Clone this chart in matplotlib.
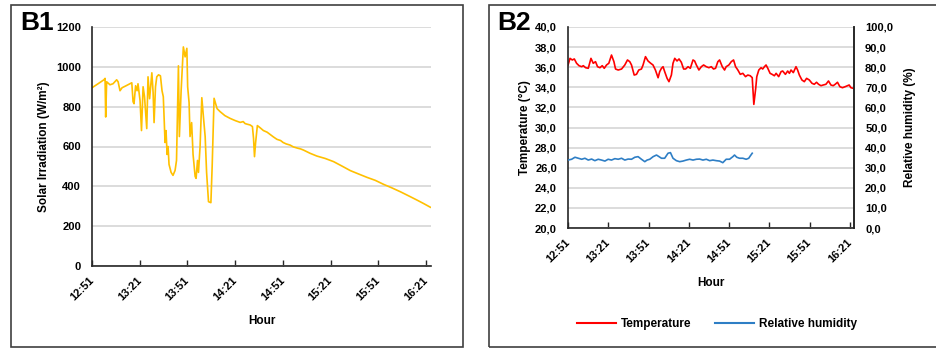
import matplotlib
matplotlib.use("Agg")
import matplotlib.pyplot as plt
from matplotlib.patches import Rectangle
from matplotlib.lines import Line2D

plt.rcParams['font.family'] = ['Liberation Sans', 'DejaVu Sans']
plt.rcParams['font.weight'] = 'bold'

# ---------------- data ----------------
# x tick labels (every 30 min starting 12:51)
hour_labels = ["12:51", "13:21", "13:51", "14:21", "14:51", "15:21", "15:51", "16:21"]
hour_ticks = [0, 30, 60, 90, 120, 150, 180, 210]   # minutes after 12:51

# B1: solar irradiation (minutes after 12:51, W/m2)
irr_t = [0, 3.8, 7.5, 8.2, 8.6, 9.2, 11.3, 13.2, 15.5, 16.4, 17.6, 18.9, 21.4, 25.0,
         25.8, 26.4, 27.4, 28.3, 28.9, 30.2, 31.1, 32.1, 33.0, 34.4, 35.2, 36.2, 37.6,
         38.4, 39.0, 39.9, 40.7, 41.8, 43.0, 44.0, 44.8, 45.9, 46.5, 47.2, 47.8, 48.4,
         49.7, 50.9, 52.2, 53.1, 54.3, 54.9, 56.0, 57.4, 58.5, 59.6, 60.1, 61.0, 61.6,
         62.6, 63.5, 64.8, 65.4, 66.3, 66.9, 67.9, 69.0, 70.0, 71.1, 72.0, 73.2, 74.7,
         75.5, 76.7, 78.6, 80.5, 83.5, 86.8, 90.0, 93.1, 95.0, 96.2, 97.5, 99.4, 100.8,
         101.5, 102.1, 102.8, 103.9, 105.5, 107.7, 110.0, 112.0, 114.0, 116.2, 118.5,
         120.1, 122.0, 124.5, 126.5, 129.0, 131.0, 132.9, 137.0, 141.3, 146.5, 151.8,
         157.0, 162.3, 167.5, 172.8, 178.0, 183.2, 188.5, 193.7, 199.0, 204.2, 208.5,
         212.6]
irr_v = [895, 915, 935, 942, 748, 925, 910, 915, 935, 925, 880, 895, 905, 920,
         825, 815, 905, 880, 915, 830, 680, 900, 850, 690, 950, 840, 970,
         870, 720, 900, 950, 960, 955, 880, 850, 620, 680, 560, 600, 510,
         470, 455, 480, 530, 1005, 650, 880, 1100, 1050, 1093, 900, 820, 650,
         720, 560, 450, 440, 530, 470, 600, 845, 750, 650, 470, 323, 318,
         500, 842, 790, 775, 755, 741, 730, 721, 725, 715, 712, 708, 700,
         640, 549, 620, 705, 695, 680, 672, 660, 648, 636, 630,
         620, 613, 607, 598, 592, 588, 582, 566, 552, 540, 524,
         502, 479, 462, 445, 430, 410, 392, 373, 352, 331, 313,
         295]

# B2: temperature (minutes after 12:51, deg C)
temp_t = [0, 1.5, 3.2, 4.7, 6.4, 8.2, 10.2, 11.4, 13.1, 15.1, 17.1, 18.8, 20.5, 22.0,
          23.8, 25.5, 27.0, 28.7, 30.4, 32.4, 34.2, 35.4, 37.4, 39.9, 42.3, 44.3, 46.0,
          47.3, 49.3, 51.0, 52.7, 54.7, 55.9, 57.7, 59.6, 61.6, 63.3, 65.1, 67.1, 68.3,
          69.6, 70.8, 72.0, 73.8, 75.2, 77.0, 78.2, 79.5, 81.2, 82.7, 84.4, 86.1, 87.6,
          89.4, 91.1, 93.1, 94.3, 95.6, 97.5, 99.3, 101.0, 103.0, 104.9, 106.7, 108.4,
          109.9, 111.6, 112.9, 114.9, 116.6, 117.8, 119.8, 121.6, 123.3, 124.8, 126.5,
          128.3, 130.2, 132.2, 133.9, 135.7, 137.2, 138.4, 139.8, 140.6, 142.1, 143.8,
          145.0, 146.3, 147.5, 148.8, 150.5, 152.0, 153.7, 155.0, 156.9, 158.7, 159.9,
          161.9, 163.6, 164.9, 166.1, 167.8, 169.8, 171.0, 172.3, 174.2, 176.0, 177.7,
          179.7, 181.7, 183.4, 185.1, 186.6, 188.4, 190.1, 192.1, 194.0, 195.8, 197.5,
          199.0, 200.7, 202.5, 204.4, 206.4, 208.1, 209.4, 210.7, 212.4]
temp_v = [36.2, 36.88, 36.72, 36.82, 36.39, 36.15, 36.05, 36.15, 35.95, 35.89, 36.88, 36.39, 36.55, 36.05,
          35.95, 36.15, 35.89, 36.22, 36.39, 37.21, 36.55, 35.82, 35.72, 35.82, 36.22, 36.72, 36.55,
          36.22, 35.22, 35.29, 35.72, 35.82, 36.22, 37.05, 36.62, 36.39, 36.22, 35.72, 34.95, 35.56,
          35.89, 36.05, 35.56, 34.89, 34.56, 35.22, 36.39, 36.88, 36.62, 36.82, 36.49, 35.82, 35.82,
          36.05, 35.89, 36.72, 36.62, 36.22, 35.72, 36.05, 36.22, 36.05, 35.95, 36.05, 35.82,
          35.89, 36.55, 36.72, 36.05, 35.72, 36.05, 36.22, 36.55, 36.72, 36.05, 35.72,
          35.29, 35.39, 35.06, 35.22, 35.15, 34.96, 32.3, 33.9, 35.06, 35.72, 35.95,
          35.82, 36.05, 36.22, 35.89, 35.39, 35.29, 35.15, 35.39, 35.06, 35.56, 35.62,
          35.29, 35.62, 35.39, 35.72, 35.46, 36.05, 35.72, 35.22, 34.73, 34.56, 34.89,
          34.73, 34.4, 34.3, 34.5, 34.3, 34.16, 34.23, 34.3, 34.63, 34.23, 34.16,
          34.3, 34.5, 34.06, 33.96, 34.06, 34.16, 34.23, 33.96, 33.9]

# B2: relative humidity (minutes after 12:51, %)
rh_t = [0, 2.7, 5.2, 7.7, 10.2, 12.6, 15.1, 17.6, 20.0, 22.5, 25.0, 27.5, 29.9, 32.4,
        34.9, 37.4, 39.9, 42.3, 44.8, 47.3, 49.8, 52.2, 54.7, 57.2, 58.9, 60.9, 63.4,
        65.9, 67.8, 69.6, 72.0, 74.5, 76.3, 78.2, 80.7, 83.2, 85.6, 88.1, 90.6, 93.1,
        95.6, 98.0, 100.5, 103.0, 105.5, 107.9, 110.4, 112.9, 115.3, 117.8, 120.3,
        122.8, 124.0, 125.7, 127.7, 130.2, 132.7, 134.6, 135.7, 137.2]
rh_v = [33.8, 34.2, 35.2, 34.7, 34.2, 34.7, 33.8, 34.3, 33.5, 34.2, 33.8, 33.3, 34.2, 33.8,
        34.5, 34.2, 34.7, 33.8, 34.3, 34.2, 35.2, 35.5, 34.2, 33.0, 33.8, 34.2, 35.5,
        36.3, 35.5, 34.7, 34.7, 37.2, 37.5, 34.7, 33.5, 33.0, 33.3, 33.8, 34.2, 33.8,
        34.2, 34.3, 33.8, 34.2, 33.5, 33.8, 33.5, 33.3, 32.5, 34.2, 34.2,
        35.5, 36.3, 35.2, 34.7, 34.7, 34.2, 34.7, 35.8, 37.2]

temp_ticks = [20, 22, 24, 26, 28, 30, 32, 34, 36, 38, 40]
temp_labels = ["20,0", "22,0", "24,0", "26,0", "28,0", "30,0", "32,0", "34,0", "36,0", "38,0", "40,0"]
rh_ticks = [0, 10, 20, 30, 40, 50, 60, 70, 80, 90, 100]
rh_labels = ["0,0", "10,0", "20,0", "30,0", "40,0", "50,0", "60,0", "70,0", "80,0", "90,0", "100,0"]
irr_ticks = [0, 200, 400, 600, 800, 1000, 1200]

# ---------------- figure ----------------
W, H = 937, 349
fig = plt.figure(figsize=(W / 100, H / 100), dpi=100)

def fx(px):
    return px / W

def fy(py):
    return 1 - py / H

GRID = '#d9d9d9'
SP = '#262626'
FS_T = 8
FS_L = 8.5

# panel frames
fig.patches.append(Rectangle((fx(11), fy(347)), fx(463 - 11), (347 - 5) / H,
                             transform=fig.transFigure, fill=False, ec='#404040', lw=1.2))
fig.patches.append(Rectangle((fx(489), fy(347)), fx(950 - 489), (347 - 5) / H,
                             transform=fig.transFigure, fill=False, ec='#404040', lw=1.2))

def style_x(ax):
    ax.set_xlim(0, 213)
    ax.set_xticks(hour_ticks)
    ax.set_xticklabels(hour_labels, rotation=45, ha='right', va='center',
                       rotation_mode='anchor', fontsize=FS_T, fontweight='bold')
    ax.tick_params(axis='x', direction='in', length=4, width=1, color=SP, pad=9)
    ax.set_xlabel('Hour', fontsize=FS_L, fontweight='bold', labelpad=9)

# ---- B1 ----
ax1 = fig.add_axes([fx(92), fy(266), fx(431 - 92), (266 - 27) / H])
ax1.plot(irr_t, irr_v, color='#FFC000', lw=1.2)
ax1.set_ylim(0, 1200)
ax1.set_yticks(irr_ticks)
ax1.set_yticklabels([str(v) for v in irr_ticks], fontsize=FS_T, fontweight='bold')
ax1.tick_params(axis='y', length=0, pad=8)
ax1.grid(axis='y', color=GRID, lw=1.3)
ax1.set_axisbelow(True)
for s in ['top', 'right']:
    ax1.spines[s].set_visible(False)
for s in ['left', 'bottom']:
    ax1.spines[s].set_color(SP)
    ax1.spines[s].set_linewidth(1.2)
style_x(ax1)
ax1.set_ylabel('Solar Irradiation (W/m²)', fontsize=FS_L, fontweight='bold', labelpad=4)
fig.text(fx(20), fy(23), 'B1', fontsize=19, fontweight='bold', va='center', ha='left')

# ---- B2 ----
ax2 = fig.add_axes([fx(568), fy(228), fx(854 - 568), (228 - 27) / H])
ax2.plot(temp_t, temp_v, color='#FF0000', lw=1.2)
ax2.set_ylim(20, 40)
ax2.set_yticks(temp_ticks)
ax2.set_yticklabels(temp_labels, fontsize=FS_T, fontweight='bold')
ax2.tick_params(axis='y', length=0, pad=8)
ax2.grid(axis='y', color=GRID, lw=1.3)
ax2.set_axisbelow(True)
ax2.spines['top'].set_visible(False)
for s in ['left', 'bottom', 'right']:
    ax2.spines[s].set_color(SP)
    ax2.spines[s].set_linewidth(1.2)
style_x(ax2)
ax2.set_ylabel('Temperature (°C)', fontsize=FS_L, fontweight='bold', labelpad=3)

ax3 = ax2.twinx()
ax3.plot(rh_t, rh_v, color='#2E7EC5', lw=1.2)
ax3.set_ylim(0, 100)
ax3.set_yticks(rh_ticks)
ax3.set_yticklabels(rh_labels, fontsize=FS_T, fontweight='bold')
ax3.tick_params(axis='y', length=0, pad=8)
ax3.spines['top'].set_visible(False)
ax3.spines['right'].set_color(SP)
ax3.spines['right'].set_linewidth(1.2)
ax3.spines['left'].set_visible(False)
ax3.spines['bottom'].set_visible(False)
ax3.set_ylabel('Relative humidity (%)', fontsize=FS_L, fontweight='bold', labelpad=8)
ax2.set_xlim(0, 213)
fig.text(fx(497), fy(23), 'B2', fontsize=19, fontweight='bold', va='center', ha='left')

handles = [Line2D([], [], color='#FF0000', lw=1.5), Line2D([], [], color='#2E7EC5', lw=1.5)]
fig.legend(handles, ['Temperature', 'Relative humidity'], loc='center',
           bbox_to_anchor=(fx(717), fy(324)), ncol=2, frameon=False,
           prop={'size': FS_L, 'weight': 'bold'}, handlelength=3.3,
           handletextpad=0.4, columnspacing=2.0)

fig.savefig('out.png', dpi=100)
